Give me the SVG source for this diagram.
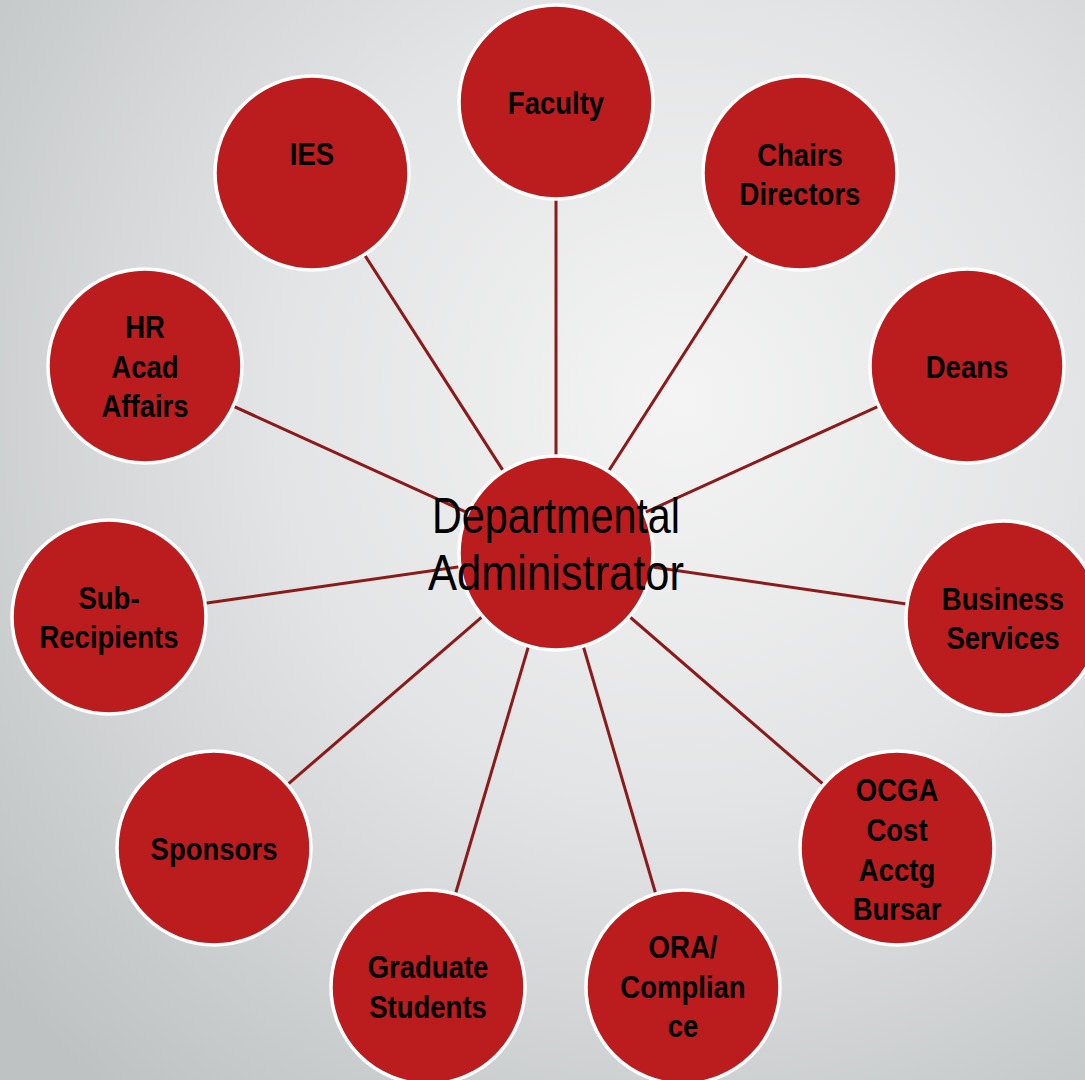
<svg xmlns="http://www.w3.org/2000/svg" width="1085" height="1080" viewBox="0 0 1085 1080">
<defs>
<radialGradient id="bg" cx="680" cy="400" r="900" gradientUnits="userSpaceOnUse">
<stop offset="0" stop-color="#F4F4F4"/>
<stop offset="0.45" stop-color="#E3E4E5"/>
<stop offset="1" stop-color="#BEC2C3"/>
</radialGradient>
<style>
.node{fill:#BB1C1E;stroke:#FFFFFF;stroke-width:3.5}
.lbl{font-family:"Liberation Sans Narrow","Arial Narrow","Liberation Sans",sans-serif;font-weight:bold;font-size:32px;fill:#000;text-anchor:middle}
.big{font-family:"Liberation Sans Narrow","Arial Narrow","Liberation Sans",sans-serif;font-size:50px;fill:#000;text-anchor:middle}
.conn line{stroke:#8B1A1A;stroke-width:3}
</style>
</defs>
<rect width="1085" height="1080" fill="url(#bg)"/>
<g id="connectors" class="conn">
<line x1="556" y1="553" x2="556" y2="102"/>
<line x1="556" y1="553" x2="800" y2="173"/>
<line x1="556" y1="553" x2="967" y2="366"/>
<line x1="556" y1="553" x2="1003" y2="618"/>
<line x1="556" y1="553" x2="897" y2="848"/>
<line x1="556" y1="553" x2="683" y2="987"/>
<line x1="556" y1="553" x2="428" y2="987"/>
<line x1="556" y1="553" x2="214" y2="848"/>
<line x1="556" y1="553" x2="109" y2="617"/>
<line x1="556" y1="553" x2="145" y2="366"/>
<line x1="556" y1="553" x2="312" y2="173"/>
</g>
<g id="faculty"><circle class="node" cx="556" cy="102" r="97"/><text class="lbl" transform="translate(556 0) scale(0.86 1)" x="0" y="114">Faculty</text></g>
<g id="chairs"><circle class="node" cx="800" cy="173" r="97"/><g transform="translate(800 0) scale(0.86 1)"><text class="lbl" x="0" y="166">Chairs</text><text class="lbl" x="0" y="205">Directors</text></g></g>
<g id="deans"><circle class="node" cx="967" cy="366" r="97"/><text class="lbl" transform="translate(967 0) scale(0.86 1)" x="0" y="378">Deans</text></g>
<g id="business"><circle class="node" cx="1003" cy="618" r="97"/><g transform="translate(1003 0) scale(0.86 1)"><text class="lbl" x="0" y="610">Business</text><text class="lbl" x="0" y="649">Services</text></g></g>
<g id="ocga"><circle class="node" cx="897" cy="848" r="97"/><g transform="translate(897 0) scale(0.86 1)"><text class="lbl" x="0" y="801">OCGA</text><text class="lbl" x="0" y="841">Cost</text><text class="lbl" x="0" y="881">Acctg</text><text class="lbl" x="0" y="920">Bursar</text></g></g>
<g id="ora"><circle class="node" cx="683" cy="987" r="97"/><g transform="translate(683 0) scale(0.86 1)"><text class="lbl" x="0" y="958">ORA/</text><text class="lbl" x="0" y="998">Complian</text><text class="lbl" x="0" y="1037">ce</text></g></g>
<g id="grad"><circle class="node" cx="428" cy="987" r="97"/><g transform="translate(428 0) scale(0.86 1)"><text class="lbl" x="0" y="978">Graduate</text><text class="lbl" x="0" y="1018">Students</text></g></g>
<g id="sponsors"><circle class="node" cx="214" cy="848" r="97"/><text class="lbl" transform="translate(214 0) scale(0.86 1)" x="0" y="860">Sponsors</text></g>
<g id="subrecipients"><circle class="node" cx="109" cy="617" r="97"/><g transform="translate(109 0) scale(0.86 1)"><text class="lbl" x="0" y="609">Sub-</text><text class="lbl" x="0" y="648">Recipients</text></g></g>
<g id="hr"><circle class="node" cx="145" cy="366" r="97"/><g transform="translate(145 0) scale(0.86 1)"><text class="lbl" x="0" y="338">HR</text><text class="lbl" x="0" y="378">Acad</text><text class="lbl" x="0" y="417">Affairs</text></g></g>
<g id="ies"><circle class="node" cx="312" cy="173" r="97"/><text class="lbl" transform="translate(312 0) scale(0.86 1)" x="0" y="165">IES</text></g>
<g id="center"><circle class="node" cx="556" cy="553" r="97"/><text class="big" x="556" y="533" textLength="248" lengthAdjust="spacingAndGlyphs">Departmental</text><text class="big" x="556" y="590" textLength="256" lengthAdjust="spacingAndGlyphs">Administrator</text></g>
</svg>
